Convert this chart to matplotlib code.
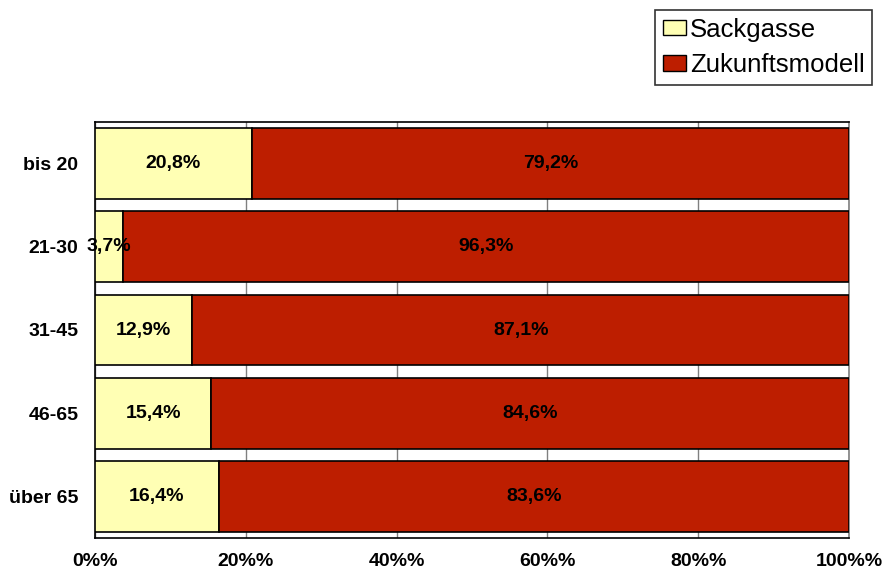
import matplotlib
matplotlib.use("Agg")
import matplotlib.pyplot as plt
from matplotlib.patches import Patch

categories = ["bis 20", "21-30", "31-45", "46-65", "über 65"]
sackgasse = [20.8, 3.7, 12.9, 15.4, 16.4]
zukunft = [79.2, 96.3, 87.1, 84.6, 83.6]
series_names = ["Sackgasse", "Zukunftsmodell"]
xticks = [0, 20, 40, 60, 80, 100]
xticklabels = ["0%%", "20%%", "40%%", "60%%", "80%%", "100%%"]

plt.rcParams['font.family'] = ['Liberation Sans', 'DejaVu Sans']

c_yellow = "#FFFFB4"
c_red = "#BD1E00"

fig = plt.figure(figsize=(8.85, 5.72), dpi=100)
ax = fig.add_axes([95/885, 34/572, (849-95)/885, (538-122)/572])

y = list(range(len(categories)))
h = 0.85
ax.barh(y, sackgasse, height=h, color=c_yellow, edgecolor="black", linewidth=1.2, zorder=3)
ax.barh(y, zukunft, left=sackgasse, height=h, color=c_red, edgecolor="black", linewidth=1.2, zorder=3)

fs = 14
for i in range(len(categories)):
    ax.text(sackgasse[i] / 2, y[i], f"{sackgasse[i]:.1f}%".replace(".", ","),
            ha="center", va="center", fontsize=fs, fontweight="bold", zorder=4)
    ax.text(sackgasse[i] + zukunft[i] / 2, y[i], f"{zukunft[i]:.1f}%".replace(".", ","),
            ha="center", va="center", fontsize=fs, fontweight="bold", zorder=4)

ax.set_xlim(0, 100)
ax.set_ylim(len(categories) - 0.5, -0.5)
ax.set_yticks(y)
ax.set_yticklabels(categories, fontsize=fs, fontweight="bold")
ax.set_xticks(xticks)
ax.set_xticklabels(xticklabels, fontsize=fs, fontweight="bold")
ax.tick_params(axis="y", length=0, pad=12)
ax.tick_params(axis="x", length=0, pad=11)
ax.grid(axis="x", color="#808080", linewidth=1, zorder=0)

for s in ["left", "bottom", "top"]:
    ax.spines[s].set_color("black")
    ax.spines[s].set_linewidth(1.2)
ax.spines["right"].set_color("#808080")
ax.spines["right"].set_linewidth(1.2)

handles = [Patch(facecolor=c_yellow, edgecolor="black", label=series_names[0]),
           Patch(facecolor=c_red, edgecolor="black", label=series_names[1])]
leg = fig.legend(handles=handles, loc="upper left", bbox_to_anchor=(655/885, 1 - 10/572),
                 fontsize=18.5, frameon=True, fancybox=False, edgecolor="black",
                 handlelength=0.9, handleheight=0.55, handletextpad=0.15,
                 borderpad=0.3, labelspacing=0.45, borderaxespad=0)
leg.get_frame().set_linewidth(1.2)

fig.savefig("out.png", dpi=100)
